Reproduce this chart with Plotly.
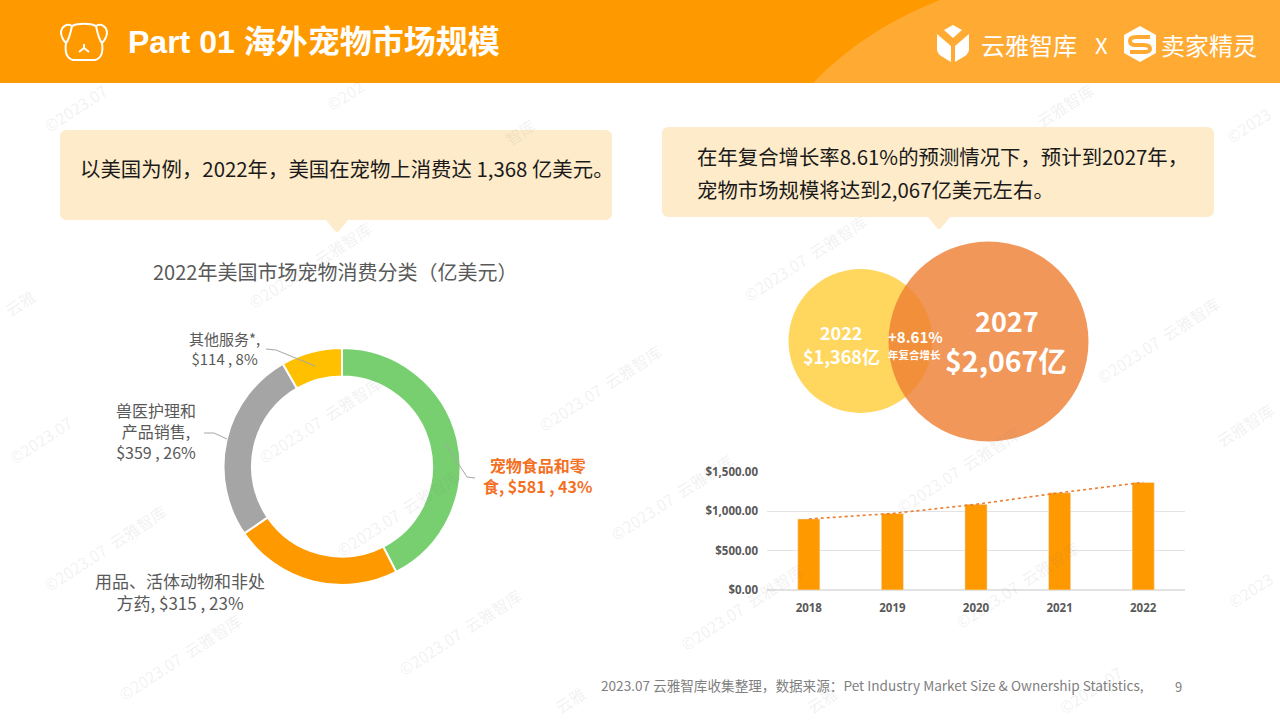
import plotly.graph_objects as go

# ---- data ----
donut_labels = ["宠物食品和零食", "用品、活体动物和非处方药", "兽医护理和产品销售", "其他服务*"]
donut_values = [581, 315, 359, 114]
donut_colors = ["#77CF70", "#FF9900", "#A5A5A5", "#FFC000"]
bar_years = ["2018", "2019", "2020", "2021", "2022"]
bar_values = [903, 973, 1089, 1236, 1368]
bar_ticks = [0, 500, 1000, 1500]
bar_ticktext = ["$0.00", "$500.00", "$1,000.00", "$1,500.00"]

CJK = "Noto Sans CJK SC"
MIX = "Liberation Sans, Noto Sans CJK SC"
ORANGE = "#FF9900"

fig = go.Figure()

# donut
cx, cy, R = 342, 466.5, 118.5
fig.add_trace(go.Pie(
    labels=donut_labels, values=donut_values, hole=0.76, sort=False, direction="clockwise",
    rotation=0, textinfo="none", showlegend=False,
    marker=dict(colors=donut_colors, line=dict(color="white", width=2)),
    domain=dict(x=[(cx-R)/1280, (cx+R)/1280], y=[1-(cy+R)/720, 1-(cy-R)/720]),
))

# bars + dotted trend
fig.add_trace(go.Bar(x=bar_years, y=bar_values, marker_color=ORANGE, width=0.265, showlegend=False))
fig.add_trace(go.Scatter(x=bar_years, y=bar_values, mode="lines", showlegend=False,
                         line=dict(color="#ED7D31", width=1.6, dash="dot")))
# full-page pixel axes
fig.add_trace(go.Scatter(x=[0], y=[0], xaxis="x2", yaxis="y2", mode="markers",
                         marker=dict(opacity=0), showlegend=False, hoverinfo="skip"))

shapes, annos = [], []

def path(d, fill=None, line=None, width=0, opacity=1):
    s = dict(type="path", path=d, xref="x2", yref="y2", opacity=opacity,
             line=dict(color=line or "rgba(0,0,0,0)", width=width))
    if fill:
        s["fillcolor"] = fill
    shapes.append(s)

def text(x, y, t, size, color="#595959", bold=False, anchor="center", family=CJK, angle=0):
    annos.append(dict(x=x, y=y, xref="x2", yref="y2", text=f"<b>{t}</b>" if bold else t,
                      showarrow=False, xanchor=anchor, yanchor="middle", textangle=angle,
                      font=dict(size=size, color=color, family=family), borderpad=0, borderwidth=0))

# header
path("M0,0 H1280 V83 H0 Z", fill=ORANGE)
path("M813,83 C850,45 890,20 940,0 H1280 V83 Z", fill="#FFAB33")

# dog icon
W = "white"
path("M72,26 C67,23 62,26 61,32 C61,37 63,40 66,43 C69,40 70,35 72,26 Z", line=W, width=2)
path("M96,26 C101,23 106,26 107,32 C107,37 105,40 102,43 C99,40 98,35 96,26 Z", line=W, width=2)
path("M72,26 C78,23 90,23 96,26 M66,43 C65,50 65,58 73,60 H95 C103,58 103,50 102,43", line=W, width=2)
path("M73,40 a1.6,1.6 0 1,0 3.2,0 a1.6,1.6 0 1,0 -3.2,0 Z", fill=W)
path("M91,40 a1.6,1.6 0 1,0 3.2,0 a1.6,1.6 0 1,0 -3.2,0 Z", fill=W)
path("M84,44 V48 M79,52 L84,48 L89,52", line=W, width=2)
text(128, 42, "Part 01 海外宠物市场规模", 32, "white", True, "left", family=MIX)

# logos
path("M953,25 L962,30 L953,38 L944,30 Z", fill=W)
path("M937,34 L951,46 L951,62 L941,56 Q937,53 937,49 Z", fill=W)
path("M969,34 L955,46 L955,62 L965,56 Q969,53 969,49 Z", fill=W)
text(1029, 44, "云雅智库", 24, W, False)
text(1101, 44, "X", 22, W, False)
path("M1140,26 L1156,35 L1156,53 L1140,62 L1124,53 L1124,35 Z", fill=W)
path("M1150,37 H1136 Q1130,37 1130,41 Q1130,45 1136,45 H1144 Q1150,45 1150,49 Q1150,52 1144,52 H1130", line="#FFAB33", width=4)
text(1209, 44, "卖家精灵", 24, W, False)

# callouts
CALL = "#FEEBC9"
def callout(x0, y0, x1, y1, px):
    r = 7
    path(f"M{x0+r},{y0} H{x1-r} Q{x1},{y0} {x1},{y0+r} V{y1-r} Q{x1},{y1} {x1-r},{y1} "
         f"H{px+11} L{px+2},{y1+11} Q{px},{y1+13} {px-2},{y1+11} L{px-11},{y1} H{x0+r} "
         f"Q{x0},{y1} {x0},{y1-r} V{y0+r} Q{x0},{y0} {x0+r},{y0} Z", fill=CALL)
callout(60, 130, 612, 220, 337)
callout(662, 127, 1214, 217, 939)
text(80, 168, "以美国为例，2022年，美国在宠物上消费达 1,368 亿美元。", 20.4, "#1a1a1a", False, "left")
text(697, 156, "在年复合增长率8.61%的预测情况下，预计到2027年，", 20.4, "#1a1a1a", False, "left")
text(697, 189, "宠物市场规模将达到2,067亿美元左右。", 20.4, "#1a1a1a", False, "left")

# donut title and labels
text(335, 271, "2022年美国市场宠物消费分类（亿美元）", 20, "#595959")
GL = "#A6A6A6"
path("M445,443 L467,477 L475,478", line=GL, width=1)
path("M266,349 L276,350 L315,366", line=GL, width=1)
path("M204,433 L214,433 L227,439", line=GL, width=1)
text(537, 475, "宠物食品和零<br>食, $581 , 43%", 16, "#F4701F", True)
text(224, 348, "其他服务*,<br>$114 , 8%", 15)
text(156, 431, "兽医护理和<br>产品销售,<br>$359 , 26%", 16)
text(180, 591, "用品、活体动物和非处<br>方药, $315 , 23%", 17)

# bubbles
def circle(x, y, r, fill, opacity=1):
    shapes.append(dict(type="circle", xref="x2", yref="y2", x0=x-r, x1=x+r, y0=y-r, y1=y+r,
                       fillcolor=fill, opacity=opacity, line=dict(width=0)))
circle(860.5, 341, 72, "#FFD75E")
circle(988.5, 341.5, 100, "#ED7D31", 0.8)
text(841, 332, "2022", 18, W, True)
text(841, 356, "$1,368亿", 18, W, True)
text(915, 336, "+8.61%", 15, W, True)
text(914, 354, "年复合增长", 10.5, W, True)
text(1007, 320, "2027", 27, W, True)
text(1006, 359, "$2,067亿", 28.5, W, True)

# footer
text(601, 685, "2023.07 云雅智库收集整理，数据来源：Pet Industry Market Size &amp; Ownership Statistics,", 13.6, "#7F7F7F", False, "left")
text(1178, 686, "9", 13, "#7F7F7F")

# watermarks
WM = "rgba(120,120,120,0.11)"
FULL = "©2023.07  云雅智库"
for x, y in [(805, 258), (1158, 340), (600, 388), (320, 420), (105, 548), (672, 497),
             (958, 470), (398, 513), (460, 632), (180, 657), (742, 607), (1017, 585),
             (310, 265)]:
    text(x, y, FULL, 16, WM, False, angle=-33)
for x, y, t in [(75, 108, "©2023.07"), (345, 95, "©202"), (1065, 105, "云雅智库"), (1248, 125, "©2023"),
                (520, 132, "智库"), (40, 440, "©2023.07"), (1245, 425, "云雅智库"), (1250, 590, "©2023"),
                (1090, 690, "©2023.07"), (822, 700, "云雅"), (570, 700, "云雅"), (20, 303, "云雅")]:
    text(x, y, t, 16, WM, False, angle=-33)

fig.update_layout(
    width=1280, height=720, autosize=False, margin=dict(l=0, r=0, t=0, b=0, pad=0),
    paper_bgcolor="white", plot_bgcolor="rgba(0,0,0,0)", showlegend=False, bargap=0.735,
    font=dict(family=CJK),
    xaxis=dict(domain=[767/1280, 1185/1280], anchor="y", type="category", showgrid=False, showline=False, automargin=False,
               ticks="", tickfont=dict(size=11.5, color="#595959", family="Open Sans", weight="bold"), ticklabelstandoff=9),
    yaxis=dict(domain=[1-590/720, 1-472/720], anchor="x", range=[0, 1500], tickvals=bar_ticks, ticktext=bar_ticktext, automargin=False,
               gridcolor="#E3E3E3", gridwidth=1, zeroline=True, zerolinecolor="#E3E3E3", showline=False, ticks="",
               tickfont=dict(size=11.5, color="#595959", family="Open Sans", weight="bold"), ticklabelstandoff=8),
    xaxis2=dict(domain=[0, 1], range=[0, 1280], anchor="y2", visible=False, fixedrange=True, automargin=False),
    yaxis2=dict(domain=[0, 1], range=[720, 0], anchor="x2", visible=False, fixedrange=True, automargin=False),
    shapes=shapes, annotations=annos,
)
post = ("var g=document.getElementById('{plot_id}');document.body.style.margin='0';"
        "document.documentElement.style.overflow='hidden';document.body.style.overflow='hidden';"
        "g.style.position='fixed';g.style.left='0';g.style.top='0';g.style.width='1280px';g.style.height='720px';"
        "Plotly.relayout(g,{width:1280,height:720});")
fig.write_html("out.html", config=dict(displayModeBar=False), post_script=post)
